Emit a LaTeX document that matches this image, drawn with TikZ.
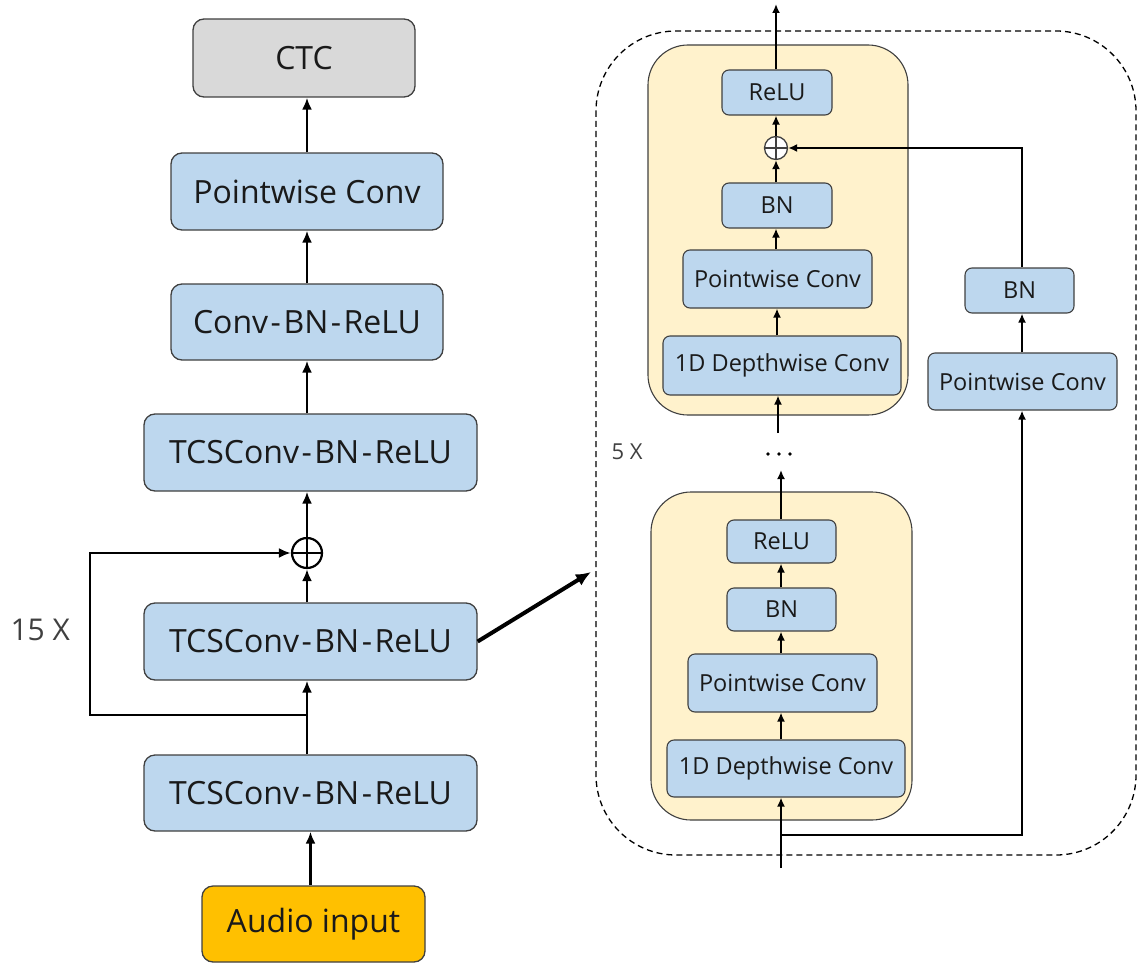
\documentclass[tikz,border=0pt]{standalone}
\usepackage{fontspec}
\setmainfont{Open Sans}
\usetikzlibrary{arrows.meta,calc}
\definecolor{boxblue}{HTML}{BDD7EE}
\definecolor{ctcgray}{HTML}{D9D9D9}
\definecolor{audioorange}{HTML}{FFC000}
\definecolor{blockyellow}{HTML}{FFF2CC}
\definecolor{edgegray}{HTML}{404040}
\definecolor{txtdark}{HTML}{1A1A1A}
\definecolor{lblgray}{HTML}{404040}
\newcommand{\hy}{\kern2.5pt-\kern2.5pt}
\tikzset{
  bigbox/.style={draw=edgegray, line width=1.3pt, rounded corners=11pt, fill=boxblue,
    text=txtdark, font=\fontsize{32}{36}\selectfont, inner sep=0pt},
  smallbox/.style={draw=edgegray, line width=1.1pt, rounded corners=7pt, fill=boxblue,
    text=txtdark, font=\fontsize{23.5}{27}\selectfont, inner sep=0pt},
  yblock/.style={draw=edgegray, line width=1.1pt, rounded corners=40pt, fill=blockyellow, inner sep=0pt},
  bigarr/.style={line width=2.8pt, -{Latex[length=12pt,width=10pt]}},
  smallarr/.style={line width=2.1pt, -{Latex[length=9pt,width=8pt]}},
  dashbox/.style={dashed, dash pattern=on 6pt off 4pt, line width=1.3pt, rounded corners=80pt},
  bigplus/.style={circle, draw=black, line width=2.2pt, minimum size=30pt, inner sep=0pt,
    path picture={\draw[line width=2.2pt] (path picture bounding box.north) -- (path picture bounding box.south)
      (path picture bounding box.west) -- (path picture bounding box.east);}},
  smallplus/.style={circle, draw=edgegray, fill=white, line width=1.3pt, minimum size=23pt, inner sep=0pt,
    path picture={\draw[line width=1.3pt] (path picture bounding box.north) -- (path picture bounding box.south)
      (path picture bounding box.west) -- (path picture bounding box.east);}},
  dotmark/.style={circle, fill=black, inner sep=0pt, minimum size=3.6pt},
}
\begin{document}
\begin{tikzpicture}[x=1pt,y=-1pt]
\useasboundingbox (0,0) rectangle (1137,963);

% ---------------- left column ----------------
\node[bigbox, fill=ctcgray, minimum width=222pt, minimum height=78pt] (ctc) at (304,58) {CTC};
\node[bigbox, minimum width=272pt, minimum height=77pt] (pw) at (307,191.5) {Pointwise Conv};
\node[bigbox, minimum width=272pt, minimum height=76pt] (cbr) at (307,322) {Conv\hy BN\hy ReLU};
\node[bigbox, minimum width=333pt, minimum height=77pt] (tcsa) at (310.5,452.5) {TCSConv\hy BN\hy ReLU};
\node[bigplus] (plusa) at (307,553) {};
\node[bigbox, minimum width=333pt, minimum height=77pt] (tcsb) at (310.5,641.5) {TCSConv\hy BN\hy ReLU};
\node[bigbox, minimum width=333pt, minimum height=76pt] (tcsc) at (310.5,793) {TCSConv\hy BN\hy ReLU};
\node[bigbox, fill=audioorange, minimum width=223pt, minimum height=76pt] (audio) at (313.5,924) {Audio input};
\node[text=lblgray, font=\fontsize{30}{34}\selectfont, anchor=west] (rep15) at (7,630) {15 X};

\draw[bigarr] (pw.north -| plusa) -- (ctc.south -| plusa);
\draw[bigarr] (cbr.north -| plusa) -- (pw.south -| plusa);
\draw[bigarr] (tcsa.north -| plusa) -- (cbr.south -| plusa);
\draw[bigarr] (plusa.north) -- (tcsa.south -| plusa);
\draw[bigarr] (tcsb.north -| plusa) -- (plusa.south);
\draw[bigarr] (tcsc.north -| plusa) -- (tcsb.south -| plusa);
\coordinate (audtop) at ($(audio.north)+(-3,0)$);
\draw[bigarr] (audtop) -- (audtop |- tcsc.south);
\coordinate (skipA) at (307,715);
\coordinate (skipB) at (90,715);
\draw[bigarr] (skipA) -- (skipB) |- (plusa.west);
\coordinate (zoomtip) at (591,572);
\draw[line width=4pt, -{Latex[length=15pt,width=13pt]}] (tcsb.east) -- (zoomtip);

% ---------------- right detail ----------------
\draw[dashbox] (596,31) rectangle (1136,855);
\node[text=lblgray, font=\fontsize{22}{26}\selectfont] (rep5) at (627,452) {5 X};

% top block
\node[yblock, minimum width=260pt, minimum height=370pt] (blkA) at (778,230) {};
\node[smallbox, minimum width=110pt, minimum height=45pt] (reluA) at (777,92.5) {ReLU};
\node[smallplus] (plusb) at (776,148) {};
\node[smallbox, minimum width=110pt, minimum height=45pt] (bnA) at (777,205.5) {BN};
\node[smallbox, minimum width=189pt, minimum height=58pt] (pwA) at (777.5,279) {Pointwise Conv};
\node[smallbox, minimum width=238pt, minimum height=59pt] (dwA) at (782,365.5) {1D Depthwise Conv};

% bottom block
\node[yblock, minimum width=261pt, minimum height=328pt] (blkB) at (781.5,656) {};
\node[smallbox, minimum width=109pt, minimum height=43pt] (reluB) at (781.5,541.5) {ReLU};
\node[smallbox, minimum width=109pt, minimum height=43pt] (bnB) at (781.5,609.5) {BN};
\node[smallbox, minimum width=189pt, minimum height=58pt] (pwB) at (782.5,683) {Pointwise Conv};
\node[smallbox, minimum width=238pt, minimum height=57pt] (dwB) at (786,768.5) {1D Depthwise Conv};

% shortcut branch
\node[smallbox, minimum width=189pt, minimum height=57pt] (pwR) at (1022.5,381.5) {Pointwise Conv};
\node[smallbox, minimum width=109pt, minimum height=45pt] (bnR) at (1019.5,290.5) {BN};

% continuation dots
\node[dotmark] (dotA) at (768,454) {};
\node[dotmark] (dotB) at (779,454) {};
\node[dotmark] (dotC) at (790,454) {};

% connectors, top block
\coordinate (outtop) at (776,4);
\draw[smallarr] (reluA.north -| plusb) -- (outtop);
\draw[smallarr] (plusb.north) -- (reluA.south -| plusb);
\draw[smallarr] (bnA.north -| plusb) -- (plusb.south);
\draw[smallarr] (pwA.north -| plusb) -- (bnA.south -| plusb);
\draw[smallarr] (dwA.north -| 777,0) -- (pwA.south -| 777,0);
\coordinate (belowA) at (778,433);
\draw[smallarr] (belowA) -- (belowA |- dwA.south);

% connectors, bottom block
\coordinate (aboveB) at (781,470);
\draw[smallarr] (reluB.north -| aboveB) -- (aboveB);
\draw[smallarr] (bnB.north -| aboveB) -- (reluB.south -| aboveB);
\draw[smallarr] (pwB.north -| aboveB) -- (bnB.south -| aboveB);
\draw[smallarr] (dwB.north -| aboveB) -- (pwB.south -| aboveB);
\coordinate (inB) at (781,868);
\draw[smallarr] (inB) -- (inB |- dwB.south);

% shortcut connectors
\coordinate (branch) at (781,835);
\draw[smallarr] (branch) -| (pwR.south -| 1022,0);
\draw[smallarr] (pwR.north -| 1022,0) -- (bnR.south -| 1022,0);
\draw[smallarr] (bnR.north -| 1022,0) |- (plusb.east);
\end{tikzpicture}
\end{document}
